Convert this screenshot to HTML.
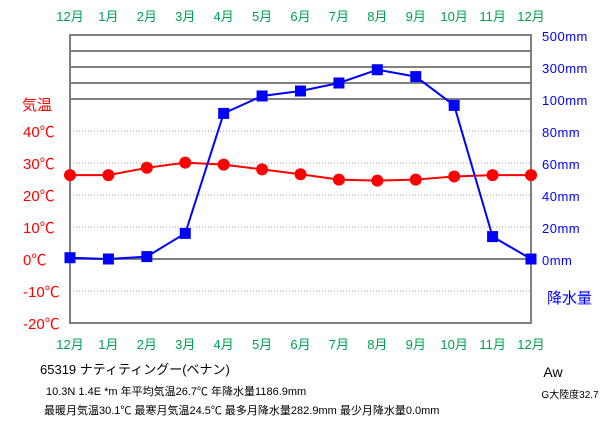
<!DOCTYPE html>
<html><head><meta charset="utf-8">
<style>
body{margin:0;background:#fff;width:611px;height:425px;overflow:hidden}
svg text{font-family:"Liberation Sans","Noto Sans CJK JP",sans-serif}
</style></head>
<body>
<svg id="c" width="611" height="425" xmlns="http://www.w3.org/2000/svg">
<g id="grid"></g>
<g id="axes"></g>
<g id="series"></g>
<text x="22" y="110" font-size="15" fill="#ff0000">気温</text>
<text x="547" y="303" font-size="15" fill="#0000ff">降水量</text>
<text x="40" y="374" font-size="13" fill="#000">65319  ナティティングー(ベナン)</text>
<text x="46" y="395" font-size="11" fill="#000">10.3N  1.4E  *m  年平均気温26.7℃  年降水量1186.9mm</text>
<text x="44" y="414" font-size="11" fill="#000">最暖月気温30.1℃ 最寒月気温24.5℃ 最多月降水量282.9mm 最少月降水量0.0mm</text>
<text x="553" y="377" font-size="14" fill="#000" text-anchor="middle">Aw</text>
<text x="570" y="398" font-size="10" fill="#000" text-anchor="middle">G大陸度32.7</text>
</svg>
<script>
const months=["12月","1月","2月","3月","4月","5月","6月","7月","8月","9月","10月","11月","12月"];
const temps=[26.2,26.2,28.5,30.1,29.5,28.0,26.5,24.8,24.5,24.8,25.8,26.2,26.2];
const precip=[0.8,0.0,1.5,16.0,91.0,119.0,150.0,200.0,282.9,240.0,96.0,14.0,0.0];
const tempTicks=[-20,-10,0,10,20,30,40];
const precipTicks=[0,20,40,60,80,100,300,500];
const ns="http://www.w3.org/2000/svg";
const X0=70,X1=531,Y0=35,Y1=323;
function xs(i){return X0+i*(X1-X0)/(months.length-1);}
function yt(t){return 259-t*3.2;}
function yp(p){return p<=100?259-p*1.6:99-(p-100)*0.16;}
function mk(tag,attrs,parent){const e=document.createElementNS(ns,tag);for(const k in attrs)e.setAttribute(k,attrs[k]);parent.appendChild(e);return e;}
const grid=document.getElementById('grid'),axes=document.getElementById('axes'),ser=document.getElementById('series');
tempTicks.forEach(t=>{const y=yt(t);
 if(t!==0&&t!==-20){const l=mk('line',{x1:X0,x2:X1,y1:y,y2:y,stroke:'#999','stroke-width':1,'stroke-dasharray':'1,2'},grid);
 
 }
 const tx=mk('text',{x:23,y:y+6,'font-size':15,fill:'#ff0000'},axes);tx.textContent=t+'℃';
 
 
});
[100,200,300,400,500].forEach(p=>{const y=yp(p);const l=mk('line',{x1:X0,x2:X1,y1:y,y2:y,stroke:'#808080','stroke-width':2},grid);
 
 });
const z=mk('line',{x1:X0,x2:X1,y1:259,y2:259,stroke:'#808080','stroke-width':2},grid);


const box=mk('rect',{x:X0,y:Y0,width:X1-X0,height:Y1-Y0,fill:'none',stroke:'#808080','stroke-width':2},axes);


precipTicks.forEach(p=>{const tx=mk('text',{x:542,y:yp(p)+6,'font-size':13,fill:'#0000ff','letter-spacing':'0.5'},axes);tx.textContent=p+'mm';
 
 });
months.forEach((m,i)=>{[21,349].forEach(y=>{const tx=mk('text',{x:xs(i),y:y,'font-size':13,fill:'#00a050','text-anchor':'middle'},axes);tx.textContent=m;
 
 });});
const tl=mk('polyline',{points:temps.map((t,i)=>xs(i)+','+yt(t)).join(' '),fill:'none',stroke:'#ff0000','stroke-width':2},ser);


const pl=mk('polyline',{points:precip.map((p,i)=>xs(i)+','+yp(p)).join(' '),fill:'none',stroke:'#0000ff','stroke-width':2},ser);


temps.forEach((t,i)=>{const c=mk('circle',{cx:xs(i),cy:yt(t),r:6,fill:'#ff0000'},ser);
 
 });
precip.forEach((p,i)=>{const r=mk('rect',{x:xs(i)-5.5,y:yp(p)-5.5,width:11,height:11,fill:'#0000ff'},ser);
 
 });
</script>
</body></html>
